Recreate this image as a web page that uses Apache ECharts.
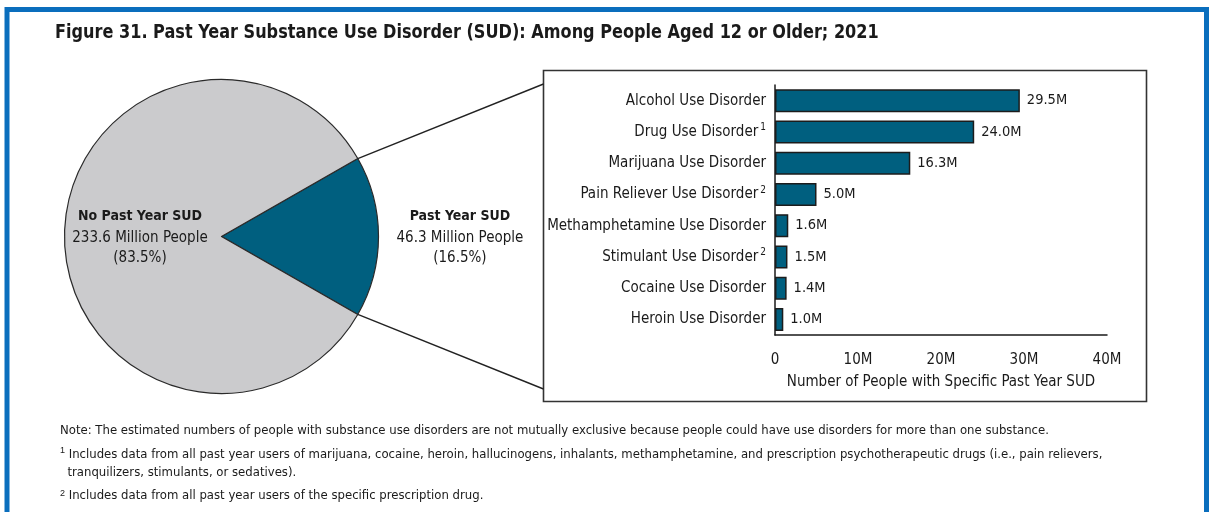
<!DOCTYPE html>
<html>
<head>
<meta charset="utf-8">
<script src="https://cdn.jsdelivr.net/npm/echarts@6/dist/echarts.min.js"></script>
<style>
  html, body { margin: 0; padding: 0; background: #ffffff; }
  #chart { width: 1213px; height: 512px; }
</style>
</head>
<body>
<div id="chart"></div>
<script>
// Population split, millions of people aged 12+
const pieNames = ['Past Year SUD', 'No Past Year SUD'];
const pieValues = [46.3, 233.6];

// Specific past-year SUDs, millions of people
const sudCategories = [
  'Alcohol Use Disorder',
  'Drug Use Disorder',
  'Marijuana Use Disorder',
  'Pain Reliever Use Disorder',
  'Methamphetamine Use Disorder',
  'Stimulant Use Disorder',
  'Cocaine Use Disorder',
  'Heroin Use Disorder'
];
const sudNotes = ['', '1', '', '2', '', '2', '', ''];
const sudValues = [29.5, 24.0, 16.3, 5.0, 1.6, 1.5, 1.4, 1.0];

const FONT = '"Liberation Sans Narrow", "Arial Narrow", "DejaVu Sans Condensed", sans-serif';
const INK = '#1a1a1a';
const TEAL = '#005f7f';
const GREY = '#cbcbcd';

const PIE_CX = 221.5, PIE_CY = 236.5, PIE_R = 157;
const BOX = { x: 543.5, y: 70.5, w: 603, h: 331 };

// The SUD slice is centred on the right-hand side of the pie
const total = pieValues[0] + pieValues[1];
const halfAngle = pieValues[0] / total * 180;
const rad = halfAngle * Math.PI / 180;
const edgeTop = [PIE_CX + PIE_R * Math.cos(rad), PIE_CY - PIE_R * Math.sin(rad)];
const edgeBot = [PIE_CX + PIE_R * Math.cos(rad), PIE_CY + PIE_R * Math.sin(rad)];

const chart = echarts.init(document.getElementById('chart'), null, { renderer: 'canvas' });

const pieRich = {
  b: { fontFamily: FONT, fontWeight: 'bold', fontSize: 14, color: INK, lineHeight: 24, align: 'center' },
  v: { fontFamily: FONT, fontSize: 15, color: INK, lineHeight: 20, align: 'center' }
};

chart.setOption({
  animation: false,
  backgroundColor: '#ffffff',
  grid: { left: 775, top: 85, width: 332, height: 250, containLabel: false },
  xAxis: {
    type: 'value',
    min: 0,
    max: 40,
    interval: 10,
    name: 'Number of People with Specific Past Year SUD',
    nameLocation: 'middle',
    nameGap: 40,
    nameTextStyle: { fontFamily: FONT, fontSize: 15, color: INK },
    axisLine: { show: true, lineStyle: { color: INK, width: 1.5 } },
    axisTick: { show: false },
    splitLine: { show: false },
    axisLabel: {
      fontFamily: FONT, fontSize: 15, color: INK, margin: 18,
      formatter: v => (v === 0 ? '0' : v + 'M')
    }
  },
  yAxis: {
    type: 'category',
    inverse: true,
    data: sudCategories,
    axisLine: { show: true, lineStyle: { color: INK, width: 1.5 } },
    axisTick: { show: false },
    axisLabel: {
      fontFamily: FONT, fontSize: 15, color: INK, margin: 9,
      formatter: (v, i) => sudNotes[i] ? v + '{sup|' + sudNotes[i] + '}' : v,
      rich: {
        sup: { fontFamily: FONT, fontSize: 10, color: INK, verticalAlign: 'top', padding: [0, 0, 8, 2] }
      }
    }
  },
  series: [
    {
      type: 'pie',
      center: [PIE_CX, PIE_CY],
      radius: [0, PIE_R],
      startAngle: halfAngle,
      clockwise: true,
      avoidLabelOverlap: false,
      percentPrecision: 1,
      itemStyle: { borderColor: '#2a2a2a', borderWidth: 1.2 },
      label: {
        position: 'outside',
        formatter: '{b|{b}}\n{v|{c} Million People}\n{v|({d}%)}',
        rich: pieRich
      },
      labelLine: { show: false, length: 10, length2: 3 },
      data: [
        { name: pieNames[0], value: pieValues[0], itemStyle: { color: TEAL } },
        { name: pieNames[1], value: pieValues[1], itemStyle: { color: GREY }, label: { position: 'inside' } }
      ]
    },
    {
      type: 'bar',
      data: sudValues,
      barWidth: 23,
      itemStyle: { color: TEAL, borderColor: '#1c1c1c', borderWidth: 1.5 },
      label: {
        show: true,
        position: 'right',
        distance: 7,
        fontFamily: FONT,
        fontSize: 14.5,
        color: INK,
        formatter: p => p.value.toFixed(1) + 'M'
      }
    }
  ],
  graphic: [
    // title, condensed horizontally
    {
      type: 'text', x: 55, y: 23, scaleX: 0.895, silent: true,
      style: {
        text: 'Figure 31. Past Year Substance Use Disorder (SUD): Among People Aged 12 or Older; 2021',
        font: 'bold 20px ' + FONT, fill: INK
      }
    },
    // outer frame
    {
      type: 'rect', silent: true, z: 0,
      shape: { x: 7, y: 9.5, width: 1199.5, height: 530 },
      style: { fill: null, stroke: '#0a6ebd', lineWidth: 5 }
    },
    // frame round the bar chart
    {
      type: 'rect', silent: true, z: 0,
      shape: { x: BOX.x, y: BOX.y, width: BOX.w, height: BOX.h },
      style: { fill: null, stroke: '#333333', lineWidth: 1.6 }
    },
    // leader lines from the SUD slice to the bar chart
    {
      type: 'line', silent: true, z: 0,
      shape: { x1: edgeTop[0], y1: edgeTop[1], x2: BOX.x, y2: 84 },
      style: { stroke: '#222222', lineWidth: 1.4 }
    },
    {
      type: 'line', silent: true, z: 0,
      shape: { x1: edgeBot[0], y1: edgeBot[1], x2: BOX.x, y2: 389 },
      style: { stroke: '#222222', lineWidth: 1.4 }
    },
    // notes
    {
      type: 'text', left: 60, top: 424, silent: true,
      style: {
        text: 'Note: The estimated numbers of people with substance use disorders are not mutually exclusive because people could have use disorders for more than one substance.',
        font: '13px ' + FONT, fill: INK
      }
    },
    {
      type: 'text', left: 60, top: 446, silent: true,
      style: {
        text: '{s|1} Includes data from all past year users of marijuana, cocaine, heroin, hallucinogens, inhalants, methamphetamine, and prescription psychotherapeutic drugs (i.e., pain relievers,\n  tranquilizers, stimulants, or sedatives).',
        font: '13px ' + FONT, fill: INK, lineHeight: 18,
        rich: { s: { fontSize: 9, verticalAlign: 'top', fill: INK, padding: [0, 0, 5, 0] } }
      }
    },
    {
      type: 'text', left: 60, top: 489, silent: true,
      style: {
        text: '{s|2} Includes data from all past year users of the specific prescription drug.',
        font: '13px ' + FONT, fill: INK,
        rich: { s: { fontSize: 9, verticalAlign: 'top', fill: INK, padding: [0, 0, 5, 0] } }
      }
    }
  ]
});
</script>
</body>
</html>
